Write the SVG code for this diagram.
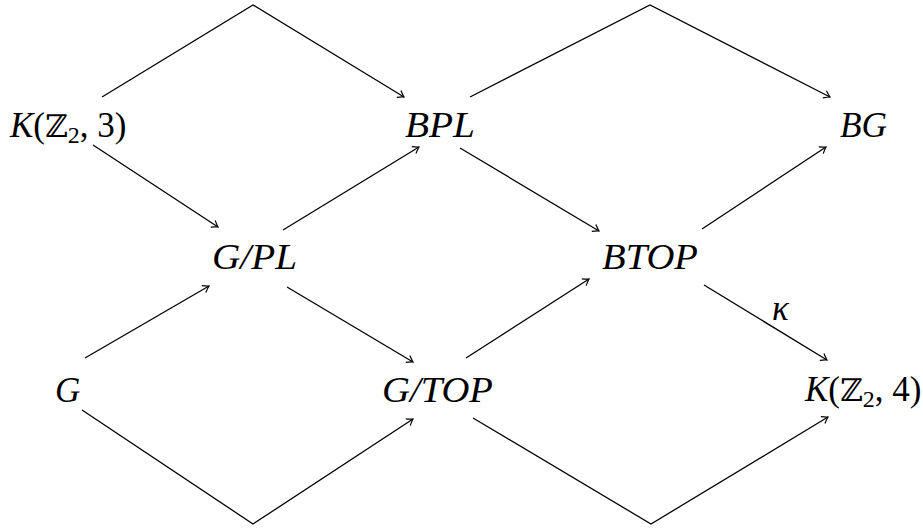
<svg xmlns="http://www.w3.org/2000/svg" width="923" height="530" viewBox="0 0 923 530">
<style>
.lbl{font-family:"Liberation Serif","DejaVu Serif",serif;font-style:italic;font-size:35px;fill:#000}
.up{font-family:"DejaVu Serif","Liberation Serif",serif;font-style:normal;font-size:31px}
.rm{font-style:normal}
.sub{font-size:24px;font-style:normal}
.c{fill:none;stroke:#000;stroke-width:1.3}
</style>
<defs>
<marker id="ah" markerWidth="12" markerHeight="12" refX="0" refY="0" viewBox="-8 -6 10 12" orient="auto" markerUnits="userSpaceOnUse">
<path d="M-6,-4 Q-2,-1 0,0 Q-2,1 -6,4" fill="none" stroke="#000" stroke-width="1.2"/>
</marker>
</defs>
<g id="connectors">
<path class="c" d="M102,97 L253,5 L404,97" marker-end="url(#ah)"/>
<path class="c" d="M470,97 L650,5 L830,97" marker-end="url(#ah)"/>
<path class="c" d="M93,145 L218,227" marker-end="url(#ah)"/>
<path class="c" d="M283,230 L419,147" marker-end="url(#ah)"/>
<path class="c" d="M460,148 L599,231" marker-end="url(#ah)"/>
<path class="c" d="M702,229 L826,147" marker-end="url(#ah)"/>
<path class="c" d="M85,358 L209,286" marker-end="url(#ah)"/>
<path class="c" d="M287,287 L413,362" marker-end="url(#ah)"/>
<path class="c" d="M466,358 L589,279" marker-end="url(#ah)"/>
<path class="c" d="M704,285 L827,360" marker-end="url(#ah)"/>
<path class="c" d="M82,410 L253,524 L413,419" marker-end="url(#ah)"/>
<path class="c" d="M473,418 L651,524 L828,417" marker-end="url(#ah)"/>
<text class="lbl" x="772" y="320" font-size="27">κ</text>
</g>
<g id="n-kz3"><text class="lbl" x="10" y="137">K<tspan class="rm">(</tspan><tspan class="up">ℤ</tspan><tspan class="sub" dy="6">2</tspan><tspan class="rm" dy="-6">, 3)</tspan></text></g>
<g id="n-bpl"><text class="lbl" x="405" y="137" textLength="70" lengthAdjust="spacingAndGlyphs">BPL</text></g>
<g id="n-bg"><text class="lbl" x="840" y="137" textLength="47" lengthAdjust="spacingAndGlyphs">BG</text></g>
<g id="n-gpl"><text class="lbl" x="212" y="269" textLength="85" lengthAdjust="spacingAndGlyphs">G/PL</text></g>
<g id="n-btop"><text class="lbl" x="602" y="269" textLength="96" lengthAdjust="spacingAndGlyphs">BTOP</text></g>
<g id="n-g"><text class="lbl" x="55" y="402">G</text></g>
<g id="n-gtop"><text class="lbl" x="382" y="402" textLength="111" lengthAdjust="spacingAndGlyphs">G/TOP</text></g>
<g id="n-kz4"><text class="lbl" x="805" y="401">K<tspan class="rm">(</tspan><tspan class="up">ℤ</tspan><tspan class="sub" dy="6">2</tspan><tspan class="rm" dy="-6">, 4)</tspan></text></g>
</svg>
